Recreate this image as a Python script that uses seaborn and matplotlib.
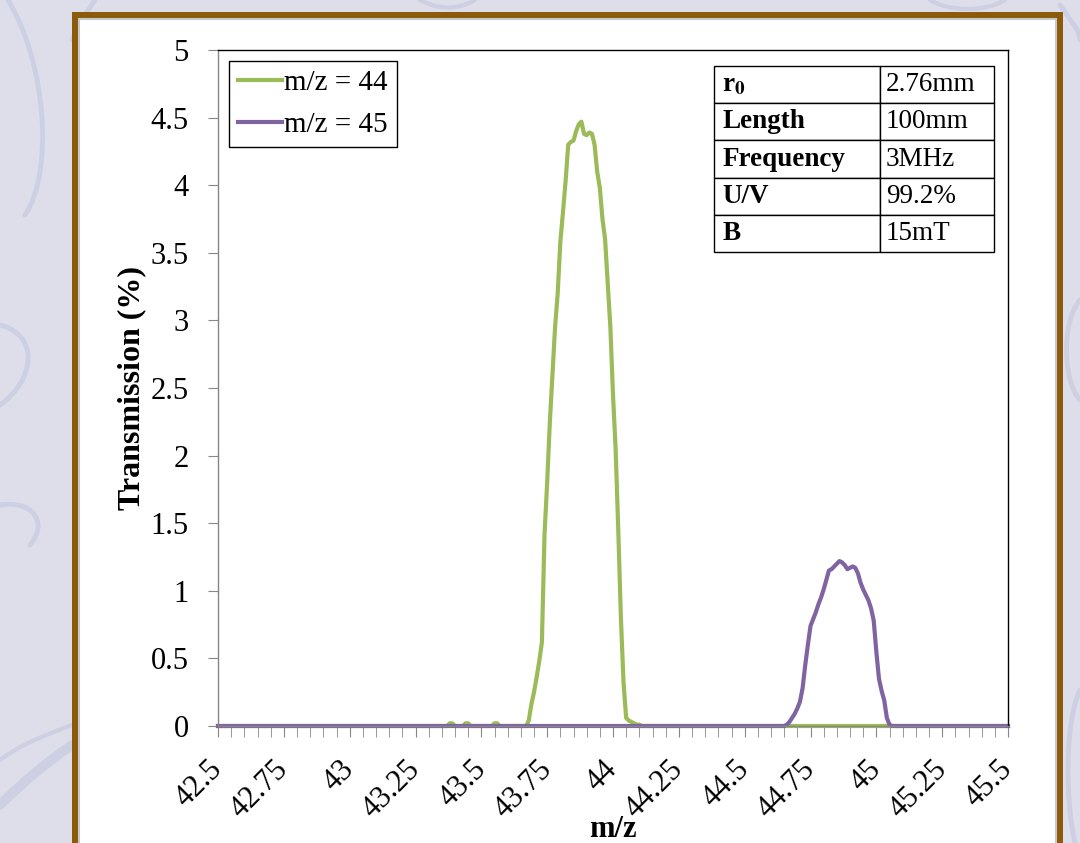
import numpy as np
import pandas as pd
import seaborn as sns
import matplotlib.pyplot as plt
from matplotlib.patches import Rectangle, PathPatch
from matplotlib.path import Path
from matplotlib.ticker import MultipleLocator, FixedLocator

plt.rcParams["mathtext.fontset"] = "stix"

# ---------- data ----------
mz = np.round(np.arange(4250, 4551) / 100, 2)   # 42.50 ... 45.50, step 0.01

green_start = 43.67
green_peak = [0.0, 0.04, 0.16, 0.25, 0.36, 0.48, 0.62, 1.42, 1.80, 2.24,
              2.60, 2.95, 3.20, 3.58, 3.80, 4.03, 4.30, 4.32, 4.33, 4.40,
              4.45, 4.47, 4.38, 4.37, 4.39, 4.38, 4.30, 4.10, 3.98, 3.75,
              3.60, 3.28, 2.95, 2.45, 2.05, 1.45, 0.80, 0.32, 0.06, 0.04,
              0.03, 0.02, 0.01, 0.01, 0.0]
green_blips = {43.38: 0.02, 43.39: 0.02, 43.44: 0.02, 43.45: 0.02,
               43.55: 0.02, 43.56: 0.02}

purple_start = 44.65
purple_peak = [0.0, 0.01, 0.03, 0.06, 0.09, 0.13, 0.18, 0.28, 0.45, 0.60,
               0.74, 0.79, 0.84, 0.90, 0.95, 1.01, 1.08, 1.15, 1.16, 1.18,
               1.20, 1.22, 1.21, 1.19, 1.16, 1.17, 1.18, 1.17, 1.13, 1.06,
               1.01, 0.97, 0.93, 0.87, 0.78, 0.55, 0.35, 0.26, 0.19, 0.06,
               0.01, 0.0]

series_names = ["m/z = 44", "m/z = 45"]
series_colors = ["#9BBB59", "#8064A2"]

table_keys = ["r$_\\mathbf{0}$", "Length", "Frequency", "U/V", "B"]
table_vals = ["2.76mm", "100mm", "3MHz", "99.2%", "15mT"]

x_labels = ["42.5", "42.75", "43", "43.25", "43.5", "43.75", "44",
            "44.25", "44.5", "44.75", "45", "45.25", "45.5"]


def build(start, peak, blips=None):
    y = np.zeros(len(mz))
    i0 = int(round((start - mz[0]) * 100))
    y[i0:i0 + len(peak)] = peak
    for k, v in (blips or {}).items():
        y[int(round((k - mz[0]) * 100))] = v
    return y


df = pd.concat([
    pd.DataFrame({"mz": mz, "T": build(green_start, green_peak, green_blips), "s": series_names[0]}),
    pd.DataFrame({"mz": mz, "T": build(purple_start, purple_peak), "s": series_names[1]}),
])

# ---------- figure / background ----------
W, H = 1080, 843
fig = plt.figure(figsize=(W / 100, H / 100), dpi=100)
fig.patch.set_facecolor("#DEDDEA")

bg = fig.add_axes([0, 0, 1, 1], zorder=-10)
bg.set_xlim(0, W)
bg.set_ylim(H, 0)
bg.axis("off")

swirl = "#CDCFE3"


def curve(pts, lw=3.5):
    codes = [Path.MOVETO] + [Path.CURVE4] * (len(pts) - 1)
    bg.add_patch(PathPatch(Path(pts, codes), fill=False, edgecolor=swirl,
                           lw=lw, capstyle="round"))


curve([(8, 0), (45, 60), (55, 170), (25, 215)])
curve([(95, 0), (85, 15), (78, 25), (72, 40)])
curve([(0, 325), (40, 335), (35, 380), (0, 405)])
curve([(0, 505), (30, 500), (50, 520), (30, 545)])
curve([(0, 805), (25, 780), (50, 760), (72, 745)], lw=7)
curve([(0, 760), (20, 745), (45, 735), (72, 725)], lw=3)
curve([(420, 0), (435, 8), (455, 12), (475, 0)], lw=3)
curve([(930, 0), (950, 12), (985, 12), (1005, 0)], lw=3)
curve([(1060, 5), (1070, 20), (1080, 30), (1080, 40)])
curve([(1080, 300), (1062, 320), (1062, 380), (1080, 400)])
curve([(1080, 690), (1065, 720), (1065, 800), (1075, 843)])

# brown frame + white page
bg.add_patch(Rectangle((72, 12), 991, 900, facecolor="#8B5A0B", edgecolor="none"))
bg.add_patch(Rectangle((79, 19), 977, 900, facecolor="white", edgecolor="#C8C8C8", lw=1.5))

# ---------- main chart ----------
ax = fig.add_axes([218 / W, 1 - 726 / H, 790 / W, 676 / H])
sns.lineplot(data=df, x="mz", y="T", hue="s", palette=series_colors,
             lw=3, ax=ax, legend=False, clip_on=False)

ax.set_xlim(42.5, 45.5)
ax.set_ylim(0, 5)

serif = "Liberation Serif"
ax.yaxis.set_major_locator(MultipleLocator(0.5))
ax.set_yticklabels([f"{v:g}" for v in ax.get_yticks()], family=serif, fontsize=22)

ax.xaxis.set_major_locator(FixedLocator(np.arange(42.5, 45.51, 0.25)))
ax.xaxis.set_minor_locator(MultipleLocator(0.05))
ax.set_xticklabels(x_labels, family=serif, fontsize=22, rotation=45,
                   ha="right", va="center", rotation_mode="anchor")
ax.tick_params(axis="x", which="both", length=8, color="#868686", direction="out", pad=20)
ax.tick_params(axis="y", length=7, color="#868686", direction="out", pad=14)

for s in ["left", "bottom"]:
    ax.spines[s].set_color("#868686")
for s in ["top", "right"]:
    ax.spines[s].set_color("black")
for s in ax.spines.values():
    s.set_linewidth(1)

ax.set_xlabel("m/z", family=serif, fontsize=22, fontweight="bold", labelpad=-6)
ax.set_ylabel("Transmission (%)", family=serif, fontsize=23, fontweight="bold", labelpad=3)

# legend
handles = [plt.Line2D([], [], color=c, lw=3) for c in series_colors]
leg = ax.legend(handles, series_names, loc="upper left", bbox_to_anchor=(0.014, 0.984),
                borderaxespad=0, fancybox=False, edgecolor="black", framealpha=1,
                prop={"family": serif, "size": 21}, handlelength=1.5,
                handletextpad=0.1, labelspacing=0.55, borderpad=0.3)
leg.get_frame().set_linewidth(1)

# parameter table
tbl = ax.table(cellText=[[k, v] for k, v in zip(table_keys, table_vals)],
               colWidths=[166, 114], cellLoc="left",
               bbox=[(714 - 218) / 790, (726 - 252) / 676, 280 / 790, 186 / 676])
tbl.auto_set_font_size(False)
for (r, c), cell in tbl.get_celld().items():
    cell.set_linewidth(1)
    cell.set_edgecolor("black")
    cell.PAD = 0.05
    cell.get_text().set_fontfamily(serif)
    cell.get_text().set_fontsize(19.5)
    if c == 0:
        cell.get_text().set_fontweight("bold")

fig.savefig("out.png", dpi=100, facecolor=fig.get_facecolor())
